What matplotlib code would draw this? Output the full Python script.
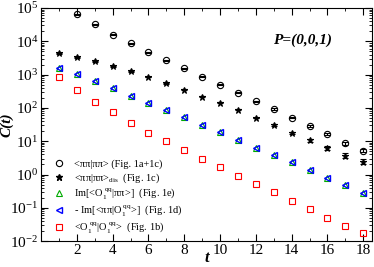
import matplotlib
matplotlib.use("Agg")
import matplotlib.pyplot as plt
import numpy as np

plt.rcParams['font.family'] = ['Liberation Serif', 'DejaVu Serif']
plt.rcParams['mathtext.fontset'] = 'custom'
plt.rcParams['mathtext.rm'] = 'Liberation Serif'
plt.rcParams['mathtext.it'] = 'Liberation Serif:italic'
plt.rcParams['mathtext.bf'] = 'Liberation Serif:bold'

t_pipi = [2, 3, 4, 5, 6, 7, 8, 9, 10, 11, 12, 13, 14, 15, 16, 17, 18]
c_pipi = [6.5e4, 3.2e4, 1.6e4, 8.7e3, 4.7e3, 2.7e3, 1.55e3, 870, 490, 283, 158, 92, 51, 29, 16.3, 8.7, 5.2]
e_pipi = [0.03, 0.03, 0.03, 0.03, 0.03, 0.03, 0.03, 0.03, 0.03, 0.03, 0.04, 0.05, 0.06, 0.07, 0.08, 0.1, 0.12]

t_all = list(range(1, 19))
c_dis = [4.4e3, 3.3e3, 2.5e3, 1.8e3, 1.26e3, 850, 550, 355, 218, 142, 87, 50, 31, 18, 10.5, 6.2, 3.7, 2.4]
e_dis = [0.03]*12 + [0.05, 0.07, 0.09, 0.12, 0.16, 0.2]

c_im1 = [1.55e3, 1.05e3, 640, 390, 235, 145, 87, 53, 31, 18.6, 10.7, 6.3, 3.9, 2.3, 1.35, 0.79, 0.48, 0.28]
c_im2 = [1.55e3, 1.05e3, 640, 390, 235, 145, 87, 53, 31, 18.6, 10.7, 6.3, 3.9, 2.3, 1.35, 0.79, 0.48, 0.28]
c_oo = [870, 345, 150, 73, 36, 18, 10, 5.5, 3.0, 1.65, 0.92, 0.53, 0.29, 0.16, 0.089, 0.05, 0.029, 0.017]

labels = [
    "<ππ|ππ> (Fig. 1a+1c)",
    "<ππ|ππ>$_{\\rm dis}$  (Fig. 1c)",
    "Im[<O$_1^{\\rm \\ qq}$|ππ>]  (Fig. 1e)",
    "- Im[<ππ|O$_1^{\\rm \\ qq}$>]  (Fig. 1d)",
    "<O$_1^{\\rm \\ qq}$|O$_1^{\\rm \\ qq}$>  (Fig. 1b)",
]

fig = plt.figure(figsize=(3.74, 2.67), dpi=100)
ax = fig.add_axes([0.11, 0.097, 0.885, 0.873])

ms = 4.5
def yerr(c, e):
    c = np.array(c); e = np.array(e)
    return [c - c / (1 + e), c * e]

h0 = ax.errorbar(t_pipi, c_pipi, yerr=yerr(c_pipi, e_pipi), fmt='o', mfc='none', mec='black',
                 ecolor='black', ms=ms, mew=0.8, elinewidth=0.8, capsize=2)
h1 = ax.errorbar(t_all, c_dis, yerr=yerr(c_dis, e_dis), fmt='*', color='black',
                 ecolor='black', ms=5, mew=0.8, elinewidth=0.8, capsize=2)
h2, = ax.plot(t_all, c_im1, '^', mfc='none', mec='#00aa00', ms=ms, mew=0.8, ls='none')
h3, = ax.plot(t_all, c_im2, '<', mfc='none', mec='#0000ff', ms=ms, mew=1.0, ls='none')
h4, = ax.plot(t_all, c_oo, 's', mfc='none', mec='#ff0000', ms=ms, mew=0.8, ls='none')

ax.set_yscale('log')
ax.set_xlim(0, 18.5)
ax.set_ylim(1e-2, 1e5)
ax.set_xticks([2, 4, 6, 8, 10, 12, 14, 16, 18])
ax.set_xticks(range(1, 19), minor=True)
ax.tick_params(which='both', direction='in', top=True, right=True, labelsize=11, pad=2)
ax.tick_params(which='major', length=5)
ax.tick_params(which='minor', length=2.5)
ax.yaxis.set_minor_locator(matplotlib.ticker.LogLocator(base=10, subs=np.arange(2, 10), numticks=20))
ax.yaxis.set_minor_formatter(matplotlib.ticker.NullFormatter())

ax.set_xlabel("t", fontsize=12, fontweight='bold', fontstyle='italic', labelpad=-5)
ax.set_ylabel("C(t)", fontsize=11, fontweight='bold', fontstyle='italic', labelpad=-2)

ax.text(0.70, 0.863, "P=(0,0,1)", transform=ax.transAxes, fontsize=11, va='center',
        fontweight='bold', fontstyle='italic')

m0 = plt.Line2D([], [], marker='o', mfc='none', mec='black', ms=ms, mew=0.8, ls='none')
m1 = plt.Line2D([], [], marker='*', color='black', ms=5, ls='none')
leg = ax.legend([m0, m1, h2, h3, h4], labels, loc='lower left', frameon=False, fontsize=7.5,
                handlelength=1.0, handletextpad=0.9, labelspacing=0.2, borderaxespad=0.2,
                bbox_to_anchor=(0.02, 0.0))

fig.savefig("out.png", dpi=100)
